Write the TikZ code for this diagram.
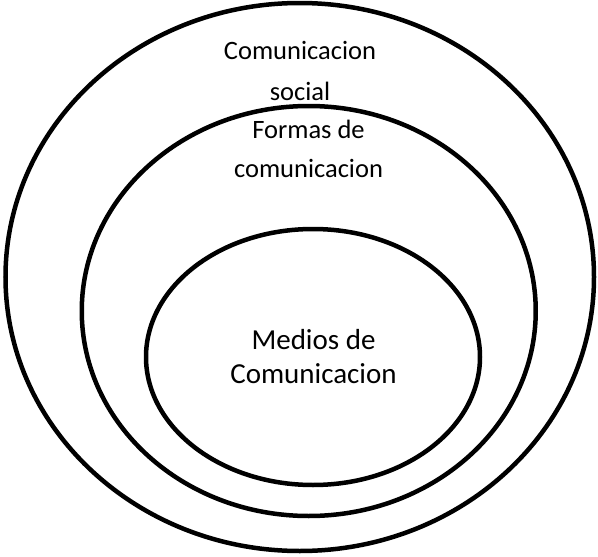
\documentclass[tikz,border=0pt]{standalone}
\usepackage{fontspec}
\setmainfont{Carlito}
\begin{document}
\begin{tikzpicture}[x=1pt,y=-1pt,
  ring/.style={draw=black,line width=4.5pt},
  lbl/.style={align=center,inner sep=0pt,anchor=base},
  topfont/.style={font=\fontsize{26.5}{41}\selectfont},
  midfont/.style={font=\fontsize{26.5}{39}\selectfont},
  big/.style={font=\fontsize{29}{34}\selectfont}]
\useasboundingbox (0,0) rectangle (598,557);
\draw[ring] (299.75,277) ellipse [x radius=294.25, y radius=274];
\draw[ring] (308.75,311) ellipse [x radius=227, y radius=205];
\draw[ring] (313,357) ellipse [x radius=167, y radius=128];
\node[lbl,topfont] (social) at (300,100) {Comunicacion\\social};
\node[lbl,midfont] (formas) at (308.5,177) {Formas de\\comunicacion};
\node[lbl,big] (medios) at (313.5,383) {Medios de\\Comunicacion};
\end{tikzpicture}
\end{document}
